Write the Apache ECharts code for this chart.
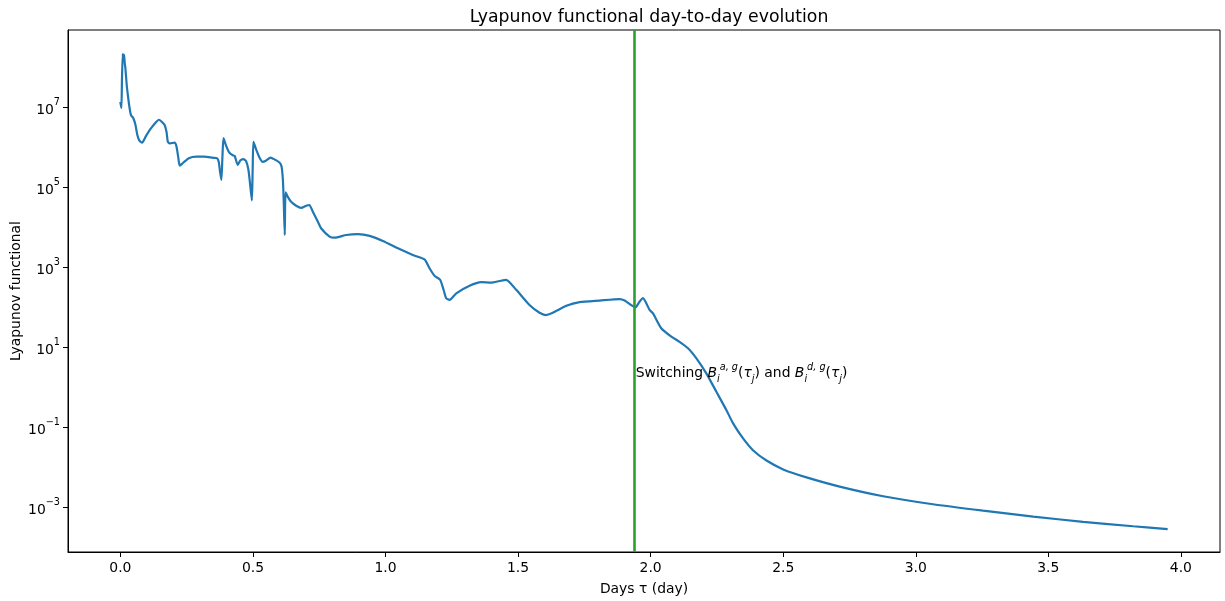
<!DOCTYPE html>
<html>
<head>
<meta charset="utf-8">
<script src="https://cdn.jsdelivr.net/npm/echarts@6/dist/echarts.min.js"></script>
<style>
html,body{margin:0;padding:0;background:#fff;}
#chart{width:1225px;height:601px;}
</style>
</head>
<body>
<div id="chart"></div>
<script>
// Days τ (day)
const days = [
  0.000, 0.001, 0.004, 0.006, 0.009, 0.011, 0.014, 0.016, 0.019, 0.024,
  0.029, 0.034, 0.040, 0.049, 0.057, 0.064, 0.072, 0.082, 0.097, 0.116,
  0.135, 0.145, 0.155, 0.167, 0.174, 0.179, 0.187, 0.204, 0.211, 0.218,
  0.224, 0.238, 0.258, 0.286, 0.317, 0.348, 0.364, 0.371, 0.376, 0.381,
  0.385, 0.389, 0.399, 0.411, 0.424, 0.431, 0.443, 0.452, 0.464, 0.474,
  0.483, 0.489, 0.496, 0.499, 0.502, 0.512, 0.525, 0.537, 0.550, 0.566,
  0.581, 0.600, 0.608, 0.613, 0.616, 0.620, 0.623, 0.631, 0.644, 0.663,
  0.682, 0.701, 0.713, 0.726, 0.745, 0.757, 0.789, 0.808, 0.852, 0.896,
  0.940, 0.990, 1.053, 1.103, 1.147, 1.166, 1.185, 1.206, 1.219, 1.229,
  1.242, 1.267, 1.317, 1.361, 1.399, 1.430, 1.455, 1.493, 1.543, 1.581,
  1.604, 1.631, 1.682, 1.732, 1.808, 1.883, 1.902, 1.943, 1.958, 1.971,
  1.996, 2.009, 2.040, 2.078, 2.109, 2.141, 2.172, 2.210, 2.248, 2.286,
  2.311, 2.348, 2.386, 2.437, 2.500, 2.588, 2.713, 2.877, 3.065, 3.254,
  3.443, 3.631, 3.820, 3.950
];
// Lyapunov functional values
const lyapunov = [
  1.35e7, 1.2e7, 9.5e6, 4.8e7, 2.14e8, 1.55e8, 2.0e8, 1.35e8, 9.3e7, 3.55e7,
  1.82e7, 1.02e7, 6.3e6, 5.25e6, 3.55e6, 2.0e6, 1.45e6, 1.29e6, 1.9e6, 2.95e6,
  4.2e6, 4.8e6, 4.35e6, 3.55e6, 2.4e6, 1.35e6, 1.23e6, 1.29e6, 1.07e6, 5.75e5,
  3.4e5, 4.1e5, 5.25e5, 5.75e5, 5.75e5, 5.4e5, 5.25e5, 4.25e5, 2.4e5, 1.5e5,
  5.75e5, 1.66e6, 1.07e6, 7.2e5, 6.2e5, 6.0e5, 3.55e5, 4.6e5, 5.0e5, 4.45e5,
  2.7e5, 1.23e5, 4.6e4, 2.7e5, 1.35e6, 8.7e5, 5.4e5, 4.25e5, 4.6e5, 5.4e5,
  4.9e5, 4.1e5, 3.25e5, 1.5e5, 4.8e4, 6.3e3, 7.4e4, 5.75e4, 4.25e4, 3.4e4,
  3.0e4, 3.4e4, 3.55e4, 2.4e4, 1.35e4, 9.3e3, 5.75e3, 5.4e3, 6.3e3, 6.6e3,
  6.0e3, 4.45e3, 2.8e3, 2.0e3, 1.55e3, 930, 600, 480, 270, 166,
  151, 219, 339, 417, 407, 447, 479, 269, 112, 72,
  63, 72, 107, 132, 145, 158, 145, 98, 135, 166,
  85, 69, 29.5, 18.2, 13.5, 9.3, 5.25, 2.19, 0.76, 0.263,
  0.123, 0.0525, 0.0263, 0.0145, 0.0087, 0.0055, 0.00324, 0.00186, 0.00117, 8.1e-4,
  5.75e-4, 4.27e-4, 3.3e-4, 2.8e-4
];
// Tick labels
const xTicks = [0.0, 0.5, 1.0, 1.5, 2.0, 2.5, 3.0, 3.5, 4.0];
const yTickExponents = [-3, -1, 1, 3, 5, 7];
// Axis ranges (x in days, y in decades)
const xRange = [-0.1975, 4.1475];
const yRangeExp = [-4.125, 8.925];
// Switching day marker and annotation
const switchDay = [1.94];
const annotationAt = [1.94, 2.2];

const seriesData = days.map((d, i) => [d, Math.log10(lyapunov[i])]);
const font = 'DejaVu Sans';

const chart = echarts.init(document.getElementById('chart'), null, {renderer: 'canvas'});
chart.setOption({
  animation: false,
  backgroundColor: '#fff',
  title: {
    text: 'Lyapunov functional day-to-day evolution',
    left: 644, top: 4, textAlign: 'center',
    textStyle: {fontFamily: font, fontSize: 17.3, fontWeight: 'normal', color: '#000'}
  },
  grid: {
    left: 68, right: 5, top: 30, bottom: 49, containLabel: false,
    outerBoundsMode: 'none',
    show: true, borderColor: '#000', borderWidth: 1, backgroundColor: 'transparent'
  },
  xAxis: {
    type: 'value', min: xRange[0], max: xRange[1],
    name: 'Days τ (day)', nameLocation: 'middle', nameGap: 30, nameMoveOverlap: false,
    nameTextStyle: {fontFamily: font, fontSize: 13.9, color: '#000'},
    axisLine: {show: true, onZero: false, lineStyle: {color: '#000', width: 1}},
    axisTick: {show: true, customValues: xTicks, length: 5, lineStyle: {color: '#000', width: 1}},
    axisLabel: {
      customValues: xTicks, margin: 9,
      fontFamily: font, fontSize: 13.9, color: '#000',
      formatter: v => v.toFixed(1)
    },
    splitLine: {show: false}
  },
  yAxis: {
    type: 'value', min: yRangeExp[0], max: yRangeExp[1],
    name: 'Lyapunov functional', nameLocation: 'middle', nameGap: 45, nameMoveOverlap: false,
    nameTextStyle: {fontFamily: font, fontSize: 13.9, color: '#000'},
    axisLine: {show: true, onZero: false, lineStyle: {color: '#000', width: 1}},
    axisTick: {show: true, customValues: yTickExponents, length: 5, lineStyle: {color: '#000', width: 1}},
    axisLabel: {
      customValues: yTickExponents, margin: 8,
      formatter: v => '{b|10}{s|' + (v < 0 ? '\u2212' + (-v) : v) + '}',
      rich: {
        b: {fontFamily: font, fontSize: 13.9, color: '#000', verticalAlign: 'bottom', lineHeight: 20},
        s: {fontFamily: font, fontSize: 9.7, color: '#000', verticalAlign: 'top', lineHeight: 20}
      }
    },
    splitLine: {show: false}
  },
  series: [{
    type: 'line',
    data: seriesData,
    showSymbol: false,
    smooth: 0.2,
    lineStyle: {color: '#1f77b4', width: 2.2},
    z: 3,
    markLine: {
      silent: true, symbol: 'none', animation: false,
      label: {show: false},
      lineStyle: {color: '#2ca02c', width: 2.6, type: 'solid'},
      data: switchDay.map(d => ({xAxis: d}))
    },
    markPoint: {
      silent: true, symbol: 'circle', symbolSize: 0, animation: false,
      data: [{coord: [annotationAt[0], Math.log10(annotationAt[1])]}],
      label: {
        show: true, position: 'right', distance: 1,
        formatter: 'Switching {it|B}{sub|i}{sup|a, g}{n|(}{it|τ}{sub|j}{n|) and }{it|B}{sub|i}{sup|d, g}{n|(}{it|τ}{sub|j}{n|)}',
        fontFamily: font, fontSize: 13.9, color: '#000', lineHeight: 22,
        rich: {
          n: {fontFamily: font, fontSize: 13.9, color: '#000', lineHeight: 22},
          it: {fontFamily: font, fontSize: 13.9, fontStyle: 'italic', color: '#000', lineHeight: 22},
          sub: {fontFamily: font, fontSize: 9.7, fontStyle: 'italic', color: '#000', verticalAlign: 'bottom', lineHeight: 22},
          sup: {fontFamily: font, fontSize: 9.7, fontStyle: 'italic', color: '#000', verticalAlign: 'top', lineHeight: 22}
        }
      }
    }
  }]
});
</script>
</body>
</html>
